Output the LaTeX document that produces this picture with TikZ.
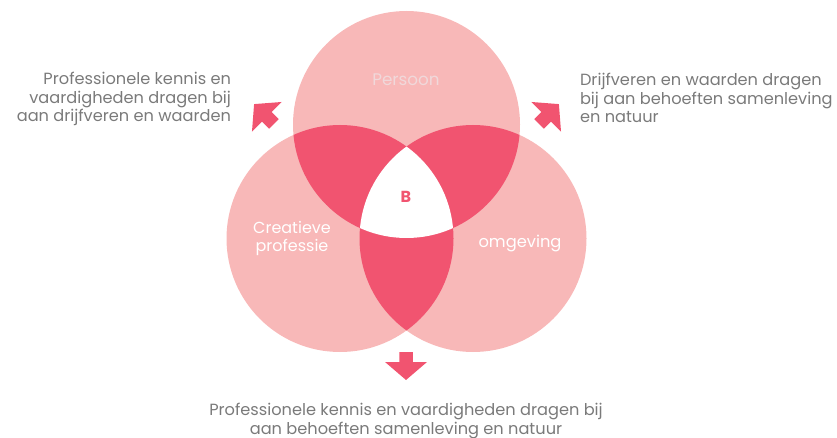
\documentclass[tikz,border=0pt]{standalone}
\usepackage{fontspec}
\setmainfont{Poppins}
\usepackage{tikz}
\usetikzlibrary{positioning}
\usetikzlibrary{calc}

\definecolor{lichtroze}{HTML}{F8B8B8}
\definecolor{donkerroze}{HTML}{F15470}
\definecolor{tekstgrijs}{HTML}{7A7A7A}
\definecolor{persoontekst}{HTML}{F0D8DA}

\newcommand{\pijl}[3]{%
 \fill [donkerroze, shift={(#1,#2)}, rotate=#3]
   (-6.75,-14) -- (6.75,-14) -- (6.75,-4) -- (21,-4) -- (0,14) -- (-21,-4) -- (-6.75,-4) -- cycle;}

\begin{document}
\begin{tikzpicture}[x=1pt,y=-1pt]
 \useasboundingbox (0,0) rectangle (837,438);

 \coordinate (cp) at (406.5,124.5);
 \coordinate (cc) at ($ (cp) + (-66.5,114) $);
 \coordinate (co) at ($ (cp) + (66.5,114) $);

 \fill [lichtroze] (cp) circle (113.5pt) (cc) circle (113.5pt) (co) circle (113.5pt);
 \begin{scope}
   \clip (cp) circle (113.5pt);
   \fill [donkerroze] (cc) circle (113.5pt) (co) circle (113.5pt);
 \end{scope}
 \begin{scope}
   \clip (cc) circle (113.5pt);
   \fill [donkerroze] (co) circle (113.5pt);
 \end{scope}
 \begin{scope}
   \clip (cp) circle (113.5pt);
   \clip (cc) circle (113.5pt);
   \fill [white] (co) circle (113.5pt);
 \end{scope}

 \node (persoon) at (406,80) [text=persoontekst, font=\fontsize{16.8}{19}\selectfont] { Persoon };
 \node (creatief) at (292,238) [text=white, align=center, font=\fontsize{16}{18}\selectfont] { Creatieve\\professie };
 \node (omgeving) at (520,243) [text=white, font=\fontsize{16.3}{19}\selectfont] { omgeving };
 \node (b) at (406,197) [text=donkerroze, font=\fontsize{16}{18}\selectfont\bfseries] { B };

 \node (links) at (234.5,99) [left, align=right, text=tekstgrijs, font=\fontsize{16.2}{18.5}\selectfont] { Professionele kennis en\\vaardigheden dragen bij\\aan drijfveren en waarden };
 \node (rechts) at (576.5,98) [right, align=left, text=tekstgrijs, font=\fontsize{16.2}{18.5}\selectfont] { Drijfveren en waarden dragen\\bij aan behoeften samenleving\\en natuur };
 \node (onder) at (406,421) [align=center, text=tekstgrijs, font=\fontsize{16.2}{18.5}\selectfont] { Professionele kennis en vaardigheden dragen bij\\aan behoeften samenleving en natuur };

 \pijl{406}{366}{0}
 \pijl{264}{114}{225}
 \pijl{549}{114}{135}
\end{tikzpicture}
\end{document}
